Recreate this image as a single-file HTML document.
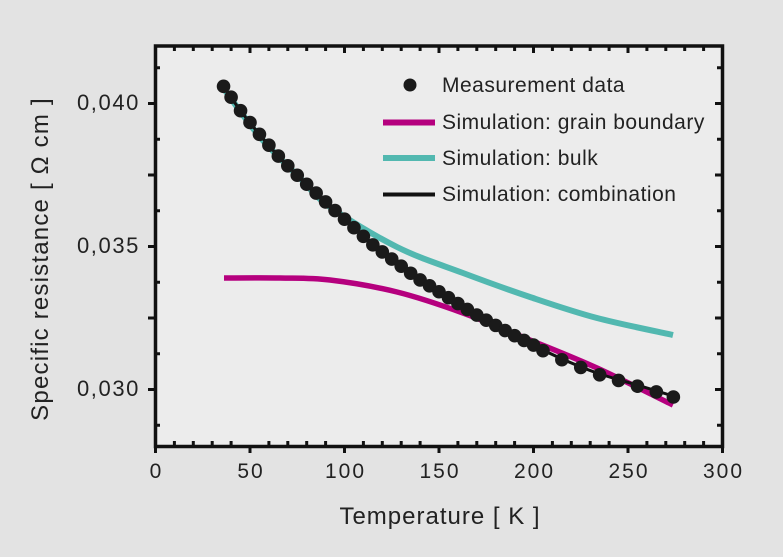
<!DOCTYPE html>
<html><head><meta charset="utf-8"><style>
html,body{margin:0;padding:0;background:#e3e3e3;}
svg{display:block;font-family:"Liberation Sans",Arial,sans-serif;}
</style></head><body>
<svg id="s" width="783" height="557" viewBox="0 0 783 557" xmlns="http://www.w3.org/2000/svg">
<rect x="0" y="0" width="783" height="557" fill="#e3e3e3"/>
<rect x="155.5" y="46" width="567" height="400.5" fill="#ececec"/>
<g id="ticks" stroke="#111" stroke-width="3"></g>
<g id="curves" fill="none" stroke-linecap="butt"></g>
<g id="dots" fill="#1a1a1a"></g>
<rect x="155.5" y="46" width="567" height="400.5" fill="none" stroke="#111" stroke-width="3.5"/>
<g font-size="22" fill="#222" text-anchor="end" letter-spacing="1.6">
<text x="140" y="110">0,040</text>
<text x="140" y="253">0,035</text>
<text x="140" y="396">0,030</text>
</g>
<g font-size="21" fill="#222" text-anchor="middle" id="xl" letter-spacing="2"></g>
<text x="440" y="524" font-size="24" fill="#222" text-anchor="middle" letter-spacing="1">Temperature [ K ]</text>
<text transform="translate(48,259) rotate(-90)" font-size="24" fill="#222" text-anchor="middle" letter-spacing="1.2">Specific resistance  [ Ω cm ]</text>
<circle cx="410" cy="85" r="6.5" fill="#1a1a1a"/>
<line x1="383" y1="122.5" x2="435" y2="122.5" stroke="#b5007e" stroke-width="6"/>
<line x1="383" y1="158" x2="435" y2="158" stroke="#52b8b0" stroke-width="6"/>
<line x1="383" y1="194.5" x2="435" y2="194.5" stroke="#111" stroke-width="4"/>
<g font-size="21" fill="#222" letter-spacing="0.5">
<text x="442" y="92">Measurement data</text>
<text x="442" y="129">Simulation: grain boundary</text>
<text x="442" y="165">Simulation: bulk</text>
<text x="442" y="201">Simulation: combination</text>
</g>
</svg>
<script>
var NS="http://www.w3.org/2000/svg";
function el(p,n,a,t){var e=document.createElementNS(NS,n);for(var k in a)e.setAttribute(k,a[k]);if(t)e.textContent=t;document.getElementById(p).appendChild(e);}
var x0=155.5,dx=94.5/50;
function X(t){return x0+t*dx;}
for(var t=0;t<=300;t+=10){var x=X(t);var maj=t%50==0;
 if(maj){el("ticks","line",{x1:x,y1:446,x2:x,y2:453});el("xl","text",{x:x+1,y:478},String(t));}
 else el("ticks","line",{x1:x,y1:446,x2:x,y2:441});
 el("ticks","line",{x1:x,y1:46,x2:x,y2:maj?53:51});}
function Y(v){return 389.5-(v-0.030)/0.0025*71.5;}
for(var v=0.0275;v<=0.0421;v+=0.00125){var y=Y(v);if(y<47||y>446)continue;var maj=Math.abs(Math.round(v/0.0025)*0.0025-v)<1e-6;
 if(maj){el("ticks","line",{x1:155,y1:y,x2:148,y2:y});el("ticks","line",{x1:722,y1:y,x2:715,y2:y});}
 else {el("ticks","line",{x1:155,y1:y,x2:160,y2:y});el("ticks","line",{x1:722,y1:y,x2:717,y2:y});}}
function cr(p){var d="M"+p[0][0]+","+p[0][1];for(var i=0;i<p.length-1;i++){var a=p[i-1]||p[i],b=p[i],c=p[i+1],e=p[i+2]||c;
 d+=" C"+(b[0]+(c[0]-a[0])/6)+","+(b[1]+(c[1]-a[1])/6)+" "+(c[0]-(e[0]-b[0])/6)+","+(c[1]-(e[1]-b[1])/6)+" "+c[0]+","+c[1];}return d;}
var blk=[[224,87],[240,110],[260,135],[280,158],[300,178],[330,206],[373,245],[417,278],[473,313],[517,337],[560,358],[597,373],[637,385],[673,396]];
var cy=[[224,89],[260,137],[300,178],[330,207],[397,247],[463,273],[530,297],[597,318],[673,335]];
var mg=[[224,278],[280,278],[330,280],[397,292],[463,313],[530,340],[597,368],[673,405]];
el("curves","path",{d:cr(cy),stroke:"#52b8b0","stroke-width":6});
el("curves","path",{d:cr(mg),stroke:"#b5007e","stroke-width":5.5});
el("curves","path",{d:cr(blk),stroke:"#111","stroke-width":3});
function interp(x){for(var i=0;i<blk.length-1;i++){if(x<=blk[i+1][0]){var f=(x-blk[i][0])/(blk[i+1][0]-blk[i][0]);return blk[i][1]+f*(blk[i+1][1]-blk[i][1]);}}return blk[blk.length-1][1];}
var T=[36];for(var t=40;t<=205;t+=5)T.push(t);for(t=215;t<=265;t+=10)T.push(t);T.push(274);
T.forEach(function(t){var x=X(t);el("dots","circle",{cx:x,cy:interp(x)+(t>200?1:0),r:6.8});});
</script>
</body></html>
